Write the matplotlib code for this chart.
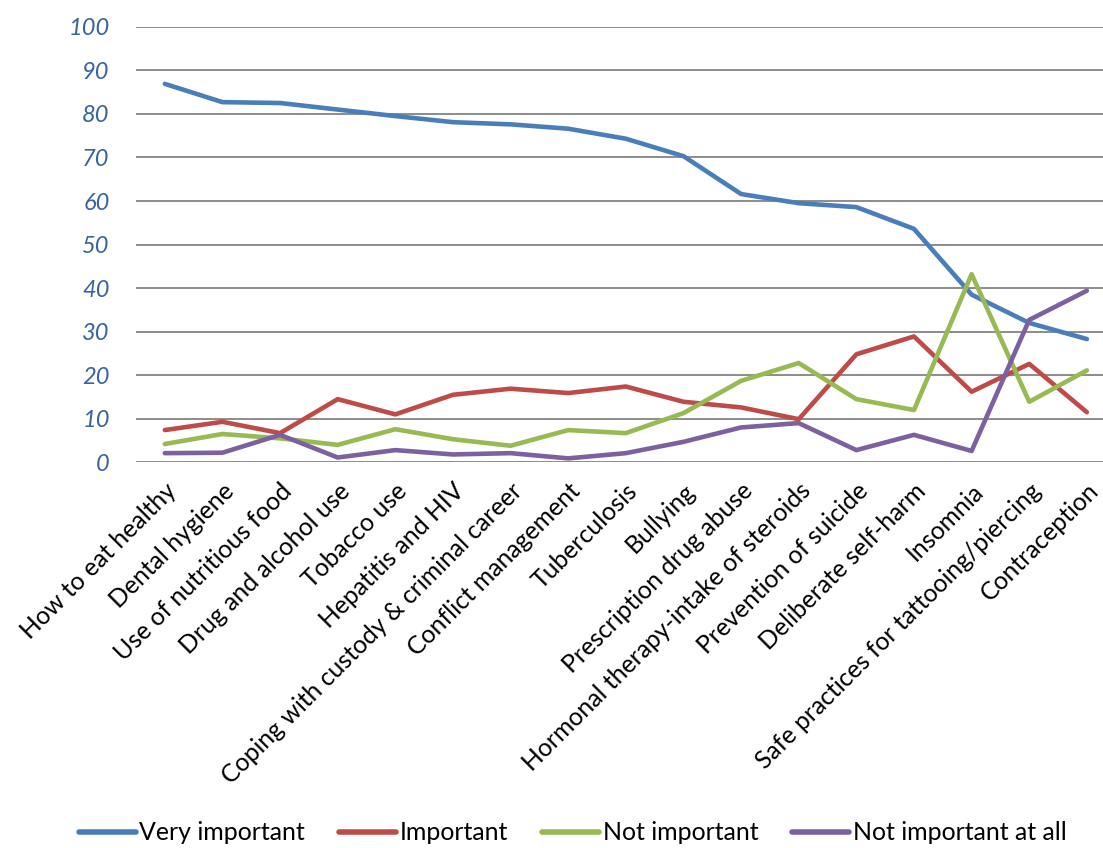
import matplotlib
matplotlib.use("Agg")
import matplotlib.pyplot as plt

categories = [
    "How to eat healthy", "Dental hygiene", "Use of nutritious food",
    "Drug and alcohol use", "Tobacco use", "Hepatitis and HIV",
    "Coping with custody & criminal career", "Conflict management",
    "Tuberculosis", "Bullying", "Prescription drug abuse",
    "Hormonal therapy-intake of steroids", "Prevention of suicide",
    "Deliberate self-harm", "Insomnia",
    "Safe practices for tattooing/piercing", "Contraception",
]

very_important = [86.9, 82.7, 82.5, 81.0, 79.5, 78.1, 77.6, 76.6, 74.3,
                  70.3, 61.6, 59.5, 58.6, 53.6, 38.5, 32.0, 28.3]
important = [7.4, 9.3, 6.7, 14.5, 11.0, 15.5, 16.9, 15.9, 17.4,
             13.9, 12.6, 9.9, 24.8, 28.9, 16.2, 22.6, 11.5]
not_important = [4.2, 6.5, 5.5, 4.0, 7.6, 5.3, 3.8, 7.4, 6.7,
                 11.3, 18.7, 22.8, 14.5, 12.0, 43.2, 13.9, 21.1]
not_important_at_all = [2.1, 2.2, 6.3, 1.1, 2.8, 1.8, 2.1, 0.9, 2.1,
                        4.7, 8.0, 9.0, 2.8, 6.3, 2.6, 32.7, 39.4]

series = [
    ("Very important", very_important, "#4A7EBB"),
    ("Important", important, "#BE4B48"),
    ("Not important", not_important, "#98B954"),
    ("Not important at all", not_important_at_all, "#7D60A0"),
]

yticks = list(range(0, 101, 10))

W, H = 1103, 848
fig = plt.figure(figsize=(W / 100, H / 100), dpi=100)
ax = fig.add_axes([136 / W, 1 - 462.3 / H, (1103 - 136) / W, (462.3 - 26.8) / H])

x = list(range(len(categories)))
for name, vals, color in series:
    ax.plot(x, vals, color=color, lw=3.3, label=name,
            solid_capstyle="round", solid_joinstyle="round", zorder=3)

ax.set_ylim(0, 100)
ax.set_xlim(-0.5, 16.28)
ax.set_yticks(yticks)
ax.set_yticklabels([str(v) for v in yticks], fontfamily="Lato",
                   fontstyle="italic", fontsize=17, color="#3A639E")
ax.grid(axis="y", color="#8C8C8C", lw=1.4, zorder=1)
ax.set_axisbelow(True)
for s in ax.spines.values():
    s.set_visible(False)
ax.tick_params(axis="both", length=0)
ax.tick_params(axis="y", pad=19)

ax.set_xticks(x)
ax.set_xticklabels(categories, rotation=45, ha="right",
                   rotation_mode="anchor", fontfamily="Lato",
                   fontsize=17.8, color="black")
ax.tick_params(axis="x", pad=12)

leg = fig.legend(loc="center", bbox_to_anchor=(0.519, 1 - 833 / H), ncol=4,
                 frameon=False, prop={"family": "Lato", "size": 17.9},
                 handlelength=2.3, handletextpad=0.15, columnspacing=1.35)
for line in leg.get_lines():
    line.set_linewidth(4.0)

fig.savefig("out.png", dpi=100)
